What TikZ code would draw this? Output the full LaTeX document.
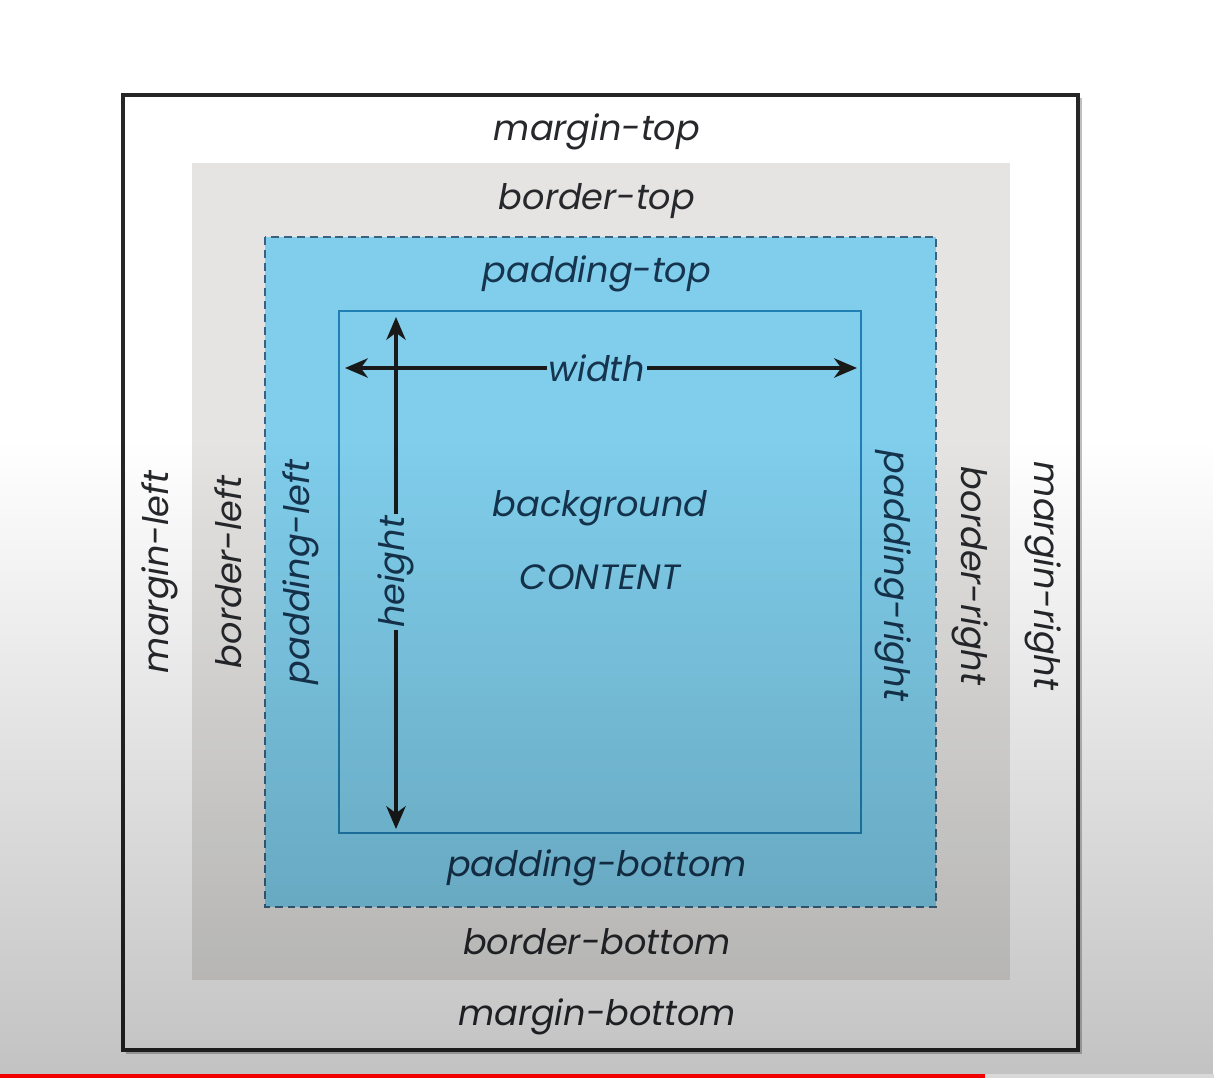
\documentclass[tikz,border=0pt]{standalone}
\usepackage{fontspec}
\newfontfamily\boxfont{Poppins}
\usetikzlibrary{positioning}
\usetikzlibrary{arrows.meta}
\usetikzlibrary{fadings}
\definecolor{bordergray}{RGB}{229,228,226}
\definecolor{padblue}{RGB}{128,206,236}
\definecolor{contentline}{RGB}{32,128,180}
\definecolor{dashline}{RGB}{58,98,128}
\definecolor{labeltext}{RGB}{38,40,44}
\definecolor{bluetext}{RGB}{22,52,78}
\tikzfading[name=darkdown, top color=transparent!100, bottom color=transparent!0]
\tikzset{%
  boxlabel/.style={font=\boxfont\itshape\fontsize{20}{24}\selectfont, text=labeltext, inner sep=1pt},
  bluelabel/.style={boxlabel, text=bluetext},
  dimarrow/.style={line width=1.9pt, draw=black!90, -{Stealth[length=13pt, width=11pt, inset=4pt]}},
  marginbox/.style={draw=black!85, line width=2pt},
  borderbox/.style={fill=bordergray},
  paddingbox/.style={fill=padblue, draw=dashline, line width=1.1pt, dash pattern=on 4.5pt off 2.8pt},
  contentbox/.style={draw=contentline, line width=1.2pt}
}

\begin{document}
\begin{tikzpicture}[x=0.02cm, y=-0.02cm]
  \useasboundingbox (0,0) rectangle (1214,1078);
  \fill[white] (0,0) rectangle (1214,1078);

  % boxes
  \draw[black!25, line width=1.6pt] (126,1053) -- (1081,1053) -- (1081,98);
  \draw[marginbox] (123,95) rectangle (1078,1050);
  \fill[borderbox] (192,163) rectangle (1010,980);
  \draw[paddingbox] (265,237) rectangle (936,907);
  \draw[contentbox] (339,311) rectangle (861,833);

  % labels
  \node[boxlabel] (mtop) at (597,132) {margin-top};
  \node[boxlabel] (btop) at (597,201) {border-top};
  \node[bluelabel] (ptop) at (597,274) {padding-top};
  \node[bluelabel] (pbottom) at (597,868) {padding-bottom};
  \node[boxlabel] (bbottom) at (597,942) {border-bottom};
  \node[boxlabel] (mbottom) at (597,1017) {margin-bottom};

  \node[boxlabel, rotate=90] (mleft) at (160,572) {margin-left};
  \node[boxlabel, rotate=90] (bleft) at (228,572) {border-left};
  \node[bluelabel, rotate=90] (pleft) at (301,572) {padding-left};
  \node[bluelabel, rotate=-90] (pright) at (893,576) {padding-right};
  \node[boxlabel, rotate=-90] (bright) at (970,576) {border-right};
  \node[boxlabel, rotate=-90] (mright) at (1043,576) {margin-right};

  \node[bluelabel] (bg) at (600,508) {background};
  \node[bluelabel, below=0.7cm of bg] (content) {CONTENT};

  % width and height
  \coordinate (wleft) at (345,368);
  \coordinate (wright) at (857,368);
  \node[bluelabel] (wlab) at (597,368) {width};
  \draw[dimarrow] (wlab) -- (wleft);
  \draw[dimarrow] (wlab) -- (wright);

  \coordinate (htop) at (396,317);
  \coordinate (hbottom) at (396,829);
  \node[bluelabel, rotate=90] (hlab) at (396,572) {height};
  \draw[dimarrow] (hlab) -- (htop);
  \draw[dimarrow] (hlab) -- (hbottom);

  % video overlay
  \fill[black, fill opacity=0.24, path fading=darkdown] (0,440) rectangle (1214,1078);
  \fill[red!95!black] (0,1074) rectangle (985,1078);
  \fill[black!15] (985,1074) rectangle (1214,1078);
\end{tikzpicture}
\end{document}
